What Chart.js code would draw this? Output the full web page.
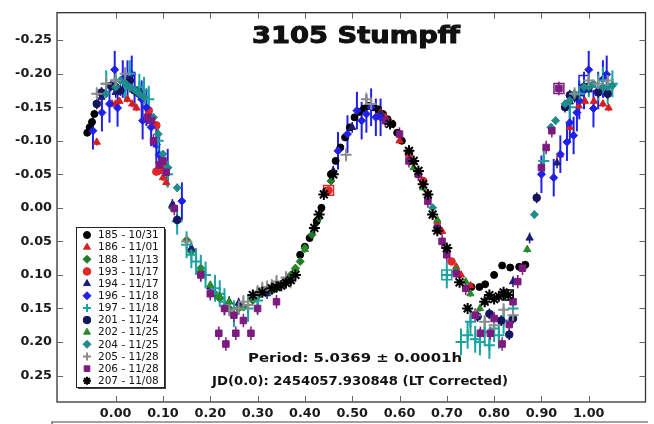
<!DOCTYPE html>
<html>
<head>
<meta charset="utf-8">
<script src="https://cdn.jsdelivr.net/npm/chart.js@4/dist/chart.umd.min.js"></script>
<style>
  html, body { margin: 0; padding: 0; background: #fff; }
  canvas { display: block; }
</style>
</head>
<body>
<canvas id="lc" width="654" height="424"></canvas>
<script>
// sessions and dates (legend)
var sessions = ['185', '186', '188', '193', '194', '196', '197', '201', '202', '204', '205', '206', '207'];
var dates = ['10/31', '11/01', '11/13', '11/17', '11/17', '11/18', '11/18', '11/24', '11/25', '11/25', '11/28', '11/28', '11/08'];

// phase, mag per session
var s185 = [[-0.06,-0.112],[-0.055,-0.12],[-0.05,-0.128],[-0.045,-0.14],[0.39,0.07],[0.40,0.058],[0.41,0.045],[0.425,0.02],[0.435,0.0],[0.445,-0.025],[0.455,-0.05],[0.465,-0.07],[0.475,-0.09],[0.485,-0.105],[0.495,-0.12],[0.505,-0.135],[0.515,-0.143],[0.525,-0.148],[0.535,-0.152],[0.545,-0.15],[0.555,-0.147],[0.565,-0.14],[0.575,-0.132],[0.585,-0.125],[0.595,-0.112],[0.605,-0.1],[0.752,0.118],[0.769,0.118],[0.781,0.114],[0.80,0.1],[0.817,0.086],[0.834,0.089],[0.853,0.088],[0.866,0.085]];
var s186 = [[-0.04,-0.098],[-0.008,-0.155],[0.0,-0.155],[0.008,-0.159],[0.025,-0.162],[0.035,-0.155],[0.044,-0.149],[0.092,-0.054],[0.1,-0.045],[0.107,-0.038],[0.56,-0.142],[0.57,-0.135],[0.58,-0.128],[0.60,-0.1],[0.62,-0.08],[0.63,-0.068],[0.66,-0.022],[0.68,0.02],[0.69,0.035],[0.72,0.088],[0.73,0.1],[0.75,0.116],[0.939,-0.079],[0.96,-0.12],[0.979,-0.152],[0.992,-0.159],[1.011,-0.159],[1.03,-0.155],[1.042,-0.149]];
var s188 = [[0.12,0.0],[0.15,0.048],[0.16,0.065],[0.18,0.09],[0.21,0.128],[0.22,0.135],[0.24,0.15],[0.26,0.15],[0.27,0.148],[0.29,0.138],[0.30,0.132],[0.33,0.124],[0.34,0.12],[0.36,0.108],[0.37,0.1],[0.38,0.09],[0.39,0.08],[0.40,0.06],[0.415,0.04],[0.43,0.015],[0.455,-0.04]];
var s193 = [[0.07,-0.145],[0.086,-0.123],[0.086,-0.054],[0.10,-0.06],[0.45,-0.026],[0.62,-0.082],[0.65,-0.04],[0.71,0.08]];
var s194 = [[-0.03,-0.165],[0.0,-0.172],[0.03,-0.18],[0.05,-0.175],[0.12,-0.005],[0.16,0.06],[0.20,0.118],[0.24,0.14],[0.26,0.142],[0.32,0.128],[0.36,0.11],[0.46,-0.055],[0.50,-0.12],[0.56,-0.14],[0.62,-0.085],[0.64,-0.05],[0.70,0.062],[0.78,0.14],[0.82,0.13],[0.84,0.11],[0.875,0.045],[0.933,-0.067],[0.96,-0.158],[0.98,-0.17],[1.0,-0.176],[1.03,-0.18]];
var s196 = [[-0.048,-0.115],[-0.029,-0.142],[-0.013,-0.155],[-0.002,-0.206],[0.004,-0.149],[0.015,-0.192],[0.025,-0.192],[0.034,-0.199],[0.04,-0.175],[0.055,-0.162],[0.057,-0.13],[0.065,-0.15],[0.075,-0.12],[0.086,-0.094],[0.092,-0.079],[0.11,-0.06],[0.14,-0.01],[0.47,-0.085],[0.49,-0.11],[0.51,-0.145],[0.52,-0.13],[0.53,-0.14],[0.54,-0.15],[0.55,-0.135],[0.56,-0.135],[0.90,-0.05],[0.926,-0.045],[0.94,-0.08],[0.954,-0.098],[0.96,-0.127],[0.968,-0.108],[0.975,-0.142],[0.98,-0.16],[0.99,-0.175],[1.0,-0.206],[1.01,-0.148],[1.02,-0.175],[1.03,-0.192],[1.038,-0.199]];
var s197 = [[-0.02,-0.185],[0.0,-0.19],[0.02,-0.178],[0.03,-0.2],[0.05,-0.18],[0.06,-0.175],[0.07,-0.162],[0.09,-0.1],[0.11,-0.05],[0.13,0.02],[0.15,0.055],[0.16,0.07],[0.17,0.08],[0.18,0.09],[0.19,0.10],[0.21,0.12],[0.22,0.128],[0.23,0.14],[0.25,0.158],[0.28,0.15],[0.30,0.138],[0.70,0.1],[0.73,0.2],[0.744,0.19],[0.75,0.17],[0.76,0.196],[0.77,0.2],[0.78,0.185],[0.79,0.205],[0.80,0.18],[0.81,0.19],[0.82,0.168],[0.84,0.15],[0.905,-0.07],[0.96,-0.15],[0.98,-0.17],[1.0,-0.185],[1.02,-0.18],[1.03,-0.19],[1.04,-0.175],[1.05,-0.185]];
var s201 = [[-0.04,-0.155],[-0.03,-0.172],[-0.01,-0.182],[0.0,-0.18],[0.01,-0.175],[0.03,-0.19],[0.04,-0.175],[0.05,-0.17],[0.13,0.018],[0.765,0.162],[0.79,0.158],[0.815,0.168],[0.832,0.189],[0.84,0.165],[0.89,-0.015],[0.95,-0.15],[0.96,-0.168],[0.97,-0.165],[0.99,-0.18],[1.0,-0.18],[1.02,-0.172],[1.04,-0.17]];
var s202 = [[0.18,0.092],[0.2,0.115],[0.22,0.132],[0.24,0.14],[0.35,0.115],[0.38,0.09],[0.40,0.062],[0.42,0.03],[0.63,-0.06],[0.65,-0.03],[0.68,0.018],[0.70,0.06],[0.72,0.092],[0.74,0.11],[0.75,0.128],[0.77,0.15],[0.87,0.062]];
var s204 = [[-0.02,-0.17],[0.0,-0.18],[0.01,-0.19],[0.02,-0.186],[0.03,-0.18],[0.04,-0.176],[0.05,-0.17],[0.06,-0.165],[0.08,-0.135],[0.09,-0.11],[0.10,-0.08],[0.11,-0.06],[0.13,-0.03],[0.62,-0.085],[0.67,0.0],[0.885,0.01],[0.92,-0.12],[0.93,-0.13],[0.95,-0.155],[0.96,-0.16],[0.97,-0.17],[0.99,-0.18],[1.0,-0.18],[1.01,-0.185],[1.03,-0.18],[1.04,-0.18],[1.05,-0.182]];
var s205 = [[-0.04,-0.17],[-0.02,-0.185],[0.0,-0.19],[0.02,-0.2],[0.15,0.05],[0.24,0.152],[0.26,0.15],[0.27,0.14],[0.28,0.145],[0.29,0.132],[0.30,0.125],[0.31,0.12],[0.32,0.118],[0.33,0.116],[0.34,0.11],[0.36,0.104],[0.37,0.11],[0.487,-0.079],[0.53,-0.162],[0.54,-0.155],[0.76,0.16],[0.78,0.17],[0.80,0.175],[0.82,0.152],[0.84,0.16],[0.97,-0.17],[1.0,-0.19],[1.02,-0.185],[1.04,-0.19]];
var s206 = [[0.067,-0.135],[0.076,-0.13],[0.08,-0.1],[0.092,-0.064],[0.10,-0.07],[0.107,-0.053],[0.124,0.001],[0.18,0.1],[0.20,0.128],[0.218,0.187],[0.23,0.15],[0.233,0.203],[0.25,0.16],[0.254,0.187],[0.27,0.168],[0.286,0.187],[0.30,0.15],[0.34,0.14],[0.57,-0.13],[0.60,-0.11],[0.62,-0.07],[0.64,-0.05],[0.66,-0.01],[0.68,0.03],[0.69,0.05],[0.70,0.07],[0.72,0.098],[0.74,0.12],[0.76,0.16],[0.771,0.187],[0.792,0.187],[0.80,0.165],[0.817,0.203],[0.832,0.174],[0.84,0.14],[0.85,0.11],[0.86,0.09],[0.90,-0.06],[0.91,-0.09],[0.922,-0.115],[0.937,-0.178]];
var s207 = [[0.29,0.13],[0.31,0.126],[0.33,0.12],[0.34,0.118],[0.35,0.116],[0.36,0.112],[0.37,0.108],[0.38,0.1],[0.42,0.03],[0.43,0.01],[0.44,-0.02],[0.46,-0.05],[0.58,-0.125],[0.62,-0.085],[0.63,-0.07],[0.64,-0.055],[0.65,-0.035],[0.66,-0.02],[0.67,0.01],[0.68,0.034],[0.70,0.06],[0.727,0.111],[0.744,0.15],[0.78,0.14],[0.79,0.13],[0.80,0.136],[0.81,0.132],[0.82,0.126],[0.83,0.13]];

// mag error per session
var errors = [0.004, 0.005, 0.004, 0.005, 0.008, 0.028, 0.02, 0.008, 0.005, 0.006, 0.01, 0.01, 0.004];

// first points boxed on the plot: phase, mag, session
var boxed = [[0.937,-0.178,'206'],[0.70,0.1,'197'],[0.83,0.13,'207'],[0.45,-0.026,'193'],[0.99,-0.19,'196']];

var xTicks = [0, 0.1, 0.2, 0.3, 0.4, 0.5, 0.6, 0.7, 0.8, 0.9, 1.0];
var yTicks = [-0.25, -0.2, -0.15, -0.1, -0.05, 0, 0.05, 0.1, 0.15, 0.2, 0.25];

var series = [s185, s186, s188, s193, s194, s196, s197, s201, s202, s204, s205, s206, s207];
var colors = ['#000000', '#d42020', '#1f7a2a', '#e02828', '#1c1c78', '#2020e8', '#1aa3a3', '#15155e', '#2a8a2a', '#1f8c8c', '#8c8c8c', '#7d1a80', '#000000'];
var styles = ['circle', 'triangle', 'rectRot', 'circle', 'triangle', 'rectRot', 'cross', 'circle', 'triangle', 'rectRot', 'cross', 'rect', 'star'];
var radii = [3.5, 4.2, 4, 3.8, 4.2, 4, 5.5, 3.8, 4.2, 4, 5.5, 4.6, 5.5];

var FONT = '"DejaVu Sans", "Liberation Sans", sans-serif';

function fmt(v) {
    if (Math.abs(v) < 1e-9) v = 0;
    return v.toFixed(2);
}

var datasets = series.map(function (s, i) {
    var lined = styles[i] === 'cross' || styles[i] === 'star';
    return {
        label: sessions[i] + ' - ' + dates[i],
        data: s.map(function (p) { return { x: p[0], y: p[1] }; }),
        err: errors[i],
        order: series.length - i,
        pointStyle: styles[i],
        pointRadius: radii[i],
        pointBackgroundColor: colors[i],
        pointBorderColor: colors[i],
        pointBorderWidth: lined ? 2 : 1,
        borderColor: colors[i],
        showLine: false
    };
});

datasets.push({
    label: 'boxed',
    data: boxed.map(function (b) { return { x: b[0], y: b[1] }; }),
    order: 20,
    pointStyle: 'rect',
    pointRadius: 7,
    pointBackgroundColor: 'rgba(0,0,0,0)',
    pointBorderColor: boxed.map(function (b) { return colors[sessions.indexOf(b[2])]; }),
    pointBorderWidth: 1.5,
    showLine: false
});

function fitText(ctx, text, cx, base, size, width, heavy) {
    ctx.save();
    ctx.font = 'bold ' + size + 'px ' + FONT;
    var w = ctx.measureText(text).width;
    ctx.translate(cx, base);
    ctx.scale(width / w, 1);
    ctx.textAlign = 'center';
    ctx.textBaseline = 'alphabetic';
    ctx.fillStyle = '#111';
    ctx.fillText(text, 0, 0);
    if (heavy) {
        ctx.strokeStyle = '#111';
        ctx.lineWidth = heavy;
        ctx.strokeText(text, 0, 0);
    }
    ctx.restore();
}

var extras = {
    id: 'extras',
    beforeDatasetsDraw: function (chart) {
        // error bars
        var ctx = chart.ctx, ys = chart.scales.y;
        ctx.save();
        chart.data.datasets.forEach(function (ds, i) {
            if (ds.err == null) return;
            var meta = chart.getDatasetMeta(i);
            ctx.strokeStyle = ds.borderColor;
            ctx.lineWidth = ds.err > 0.015 ? 2 : 1.5;
            meta.data.forEach(function (pt, j) {
                var v = ds.data[j].y;
                ctx.beginPath();
                ctx.moveTo(pt.x, ys.getPixelForValue(v - ds.err));
                ctx.lineTo(pt.x, ys.getPixelForValue(v + ds.err));
                ctx.stroke();
            });
        });
        ctx.restore();
    },
    afterDraw: function (chart) {
        var ctx = chart.ctx, a = chart.chartArea;
        var xs = chart.scales.x, ys = chart.scales.y;
        ctx.save();

        // frame and inward ticks
        ctx.strokeStyle = '#333';
        ctx.lineWidth = 1.3;
        ctx.strokeRect(a.left, a.top, a.right - a.left, a.bottom - a.top);
        ctx.lineWidth = 1;
        ctx.strokeStyle = '#666';
        ctx.beginPath();
        xTicks.forEach(function (t) {
            var px = Math.round(xs.getPixelForValue(t)) + 0.5;
            ctx.moveTo(px, a.bottom); ctx.lineTo(px, a.bottom - 6);
            ctx.moveTo(px, a.top); ctx.lineTo(px, a.top + 6);
        });
        yTicks.forEach(function (t) {
            var py = Math.round(ys.getPixelForValue(t)) + 0.5;
            ctx.moveTo(a.left, py); ctx.lineTo(a.left + 6, py);
            ctx.moveTo(a.right, py); ctx.lineTo(a.right - 6, py);
        });
        ctx.stroke();

        // line under the axis
        ctx.strokeStyle = '#444';
        ctx.lineWidth = 1.2;
        ctx.beginPath();
        ctx.moveTo(52, 424); ctx.lineTo(52, 422); ctx.lineTo(648, 422);
        ctx.stroke();

        // texts
        fitText(ctx, '3105 Stumpff', 356, 43, 23, 208, 1);
        fitText(ctx, 'Period: 5.0369 \u00b1 0.0001h', 355, 362, 13, 214);
        fitText(ctx, 'JD(0.0): 2454057.930848 (LT Corrected)', 360, 385, 13, 296);

        // legend box
        var lx = 76, ly = 227, lw = 88, lh = 160;
        ctx.fillStyle = '#444';
        ctx.fillRect(lx + 2, ly + 2, lw, lh);
        ctx.fillStyle = '#fff';
        ctx.fillRect(lx, ly, lw, lh);
        ctx.strokeStyle = '#222';
        ctx.lineWidth = 1;
        ctx.strokeRect(lx + 0.5, ly + 0.5, lw, lh);

        ctx.font = '10.5px ' + FONT;
        ctx.textAlign = 'left';
        ctx.textBaseline = 'middle';
        sessions.forEach(function (s, i) {
            var ry = 235 + i * 12.15;
            var lined = styles[i] === 'cross' || styles[i] === 'star';
            ctx.fillStyle = colors[i];
            ctx.strokeStyle = colors[i];
            ctx.lineWidth = lined ? 2 : 1;
            Chart.helpers.drawPoint(ctx, {
                pointStyle: styles[i],
                radius: Math.min(radii[i], 4),
                rotation: 0,
                borderWidth: lined ? 2 : 1
            }, 87, ry);
            ctx.fillStyle = '#111';
            ctx.fillText(s + ' - ' + dates[i], 98, ry + 0.5);
        });

        ctx.restore();
    }
};

var tickFont = { family: FONT, size: 12.8, weight: 'bold' };

new Chart(document.getElementById('lc'), {
    type: 'scatter',
    data: { datasets: datasets },
    options: {
        responsive: false,
        devicePixelRatio: 1,
        animation: false,
        layout: { padding: { top: 5, right: 5, left: 0, bottom: 0 } },
        plugins: {
            legend: { display: false },
            tooltip: { enabled: false }
        },
        scales: {
            x: {
                type: 'linear',
                position: 'bottom',
                min: -0.124,
                max: 1.12,
                afterFit: function (s) { s.height = 22; },
                grid: { display: false, drawTicks: false },
                border: { display: false },
                ticks: {
                    stepSize: 0.1,
                    padding: 4,
                    maxRotation: 0,
                    autoSkip: false,
                    color: '#1a1a1a',
                    font: tickFont,
                    callback: function (v) {
                        return (v > -1e-6 && v < 1 + 1e-6) ? fmt(v) : null;
                    }
                }
            },
            y: {
                type: 'linear',
                reverse: true,
                min: -0.291,
                max: 0.2895,
                afterFit: function (s) { s.width = 57; },
                grid: { display: false, drawTicks: false },
                border: { display: false },
                ticks: {
                    stepSize: 0.05,
                    padding: 5,
                    autoSkip: false,
                    color: '#1a1a1a',
                    font: tickFont,
                    callback: function (v) {
                        return Math.abs(v) < 0.2501 ? fmt(v) : null;
                    }
                }
            }
        }
    },
    plugins: [extras]
});
</script>
</body>
</html>
